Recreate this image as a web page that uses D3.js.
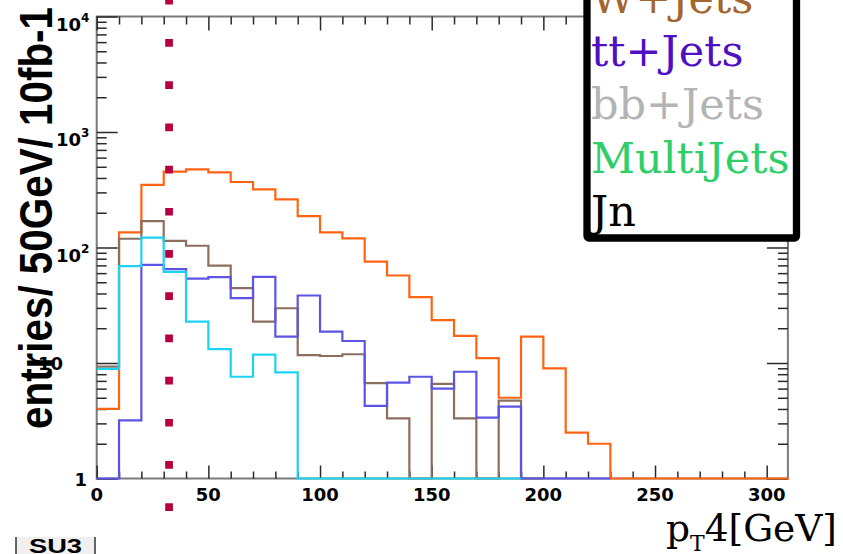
<!DOCTYPE html>
<html>
<head>
<meta charset="utf-8">
<script src="https://cdn.jsdelivr.net/npm/d3@7"></script>
<style>
  html, body { margin: 0; padding: 0; background: #ffffff; }
  svg { display: block; }
</style>
</head>
<body>
<svg id="chart" width="843" height="554"></svg>
<script>
// ---- data (10 GeV bins, starting at 0 GeV) ----
const binWidth = 10;
const xMajorTicks = [0, 50, 100, 150, 200, 250, 300];
const yMajorTicks = [1, 10, 100, 1000, 10000];
const yTickLabels = [
  { base: "1", exp: "" },
  { base: "10", exp: "" },
  { base: "10", exp: "2" },
  { base: "10", exp: "3" },
  { base: "10", exp: "4" }
];
// orange histogram
const seriesOrange = [4.0, 135, 349, 453, 474, 447, 369, 318, 261, 187, 135, 120, 75.6, 57.2, 37.2, 23.5, 17.2, 11.0, 5.0, 16.9, 9.0, 2.5, 2.0, 0, 0, 0, 0, 0, 0, 0, 0];
// brown histogram
const seriesBrown = [9.3, 119, 169, 114, 103.5, 69.8, 44.5, 22.8, 29.8, 11.7, 11.5, 11.9, 6.7, 3.32, 0, 6.6, 3.32, 0, 4.72, 0];
// blue histogram
const seriesBlue = [0, 3.19, 70.8, 65, 53.8, 55.4, 36.4, 55.7, 16.9, 38.4, 18.7, 15.5, 4.25, 6.76, 7.6, 6.0, 8.4, 3.36, 4.19, 0, 0, 0, 0];
// cyan histogram
const seriesCyan = [8.9, 69, 122, 61.5, 22.8, 13.2, 7.6, 11.8, 8.3, 0, 0, 0, 0, 0, 0, 0, 0, 0, 0];
const seriesNames = ["orange", "brown", "blue", "cyan"];
const cutValue = 32.4;
const legendLabels = ["W+Jets", "tt+Jets", "bb+Jets", "MultiJets", "Jn"];
const xTitleParts = ["p", "T", "4[GeV]"];
const yTitle = "entries/ 50GeV/ 10fb-1";
const tagText = "SU3";

// ---- styles ----
const seriesColors = { orange: "#ff6414", brown: "#8c6e5f", blue: "#5c55e3", cyan: "#1cd2f2" };
const legendColors = ["#a2662e", "#4e10c2", "#b4b4b4", "#2fce68", "#000000"];

const svg = d3.select("#chart");
const pLeft = 96.7, pRight = 787.9, pTop = 16.5, pBottom = 478.5;

const x = d3.scaleLinear().domain([0, 309.5]).range([pLeft, pRight]);
const y = d3.scaleLog().domain([1, 10000]).range([pBottom, pTop]).clamp(true);

const minorX = d3.range(0, 310, 10).filter(v => v % 50 !== 0);
const minorY = [];
for (let d = 1; d < 10000; d *= 10) for (let k = 2; k <= 9; k++) minorY.push(d * k);

const tickColor = "#2a2a2a";
const frameColor = "#7a7a7a";

function styleAxis(g) {
  g.select(".domain").remove();
  g.selectAll(".tick line").attr("stroke", tickColor).attr("stroke-width", 1.5);
  g.selectAll(".tick text").remove();
}

// frame
svg.append("rect")
  .attr("x", pLeft).attr("y", pTop)
  .attr("width", pRight - pLeft).attr("height", pBottom - pTop)
  .attr("fill", "none").attr("stroke", frameColor).attr("stroke-width", 2);

// bottom axis
svg.append("g").attr("transform", `translate(0,${pBottom})`)
  .call(d3.axisBottom(x).tickValues(xMajorTicks).tickSizeInner(-13).tickSizeOuter(0)).call(styleAxis);
svg.append("g").attr("transform", `translate(0,${pBottom})`)
  .call(d3.axisBottom(x).tickValues(minorX).tickSizeInner(-7).tickSizeOuter(0)).call(styleAxis);
// top axis
svg.append("g").attr("transform", `translate(0,${pTop})`)
  .call(d3.axisTop(x).tickValues(xMajorTicks).tickSizeInner(-14).tickSizeOuter(0)).call(styleAxis);
svg.append("g").attr("transform", `translate(0,${pTop})`)
  .call(d3.axisTop(x).tickValues(minorX).tickSizeInner(-8).tickSizeOuter(0)).call(styleAxis);
// left axis
svg.append("g").attr("transform", `translate(${pLeft},0)`)
  .call(d3.axisLeft(y).tickValues(yMajorTicks).tickSizeInner(-21).tickSizeOuter(0)).call(styleAxis);
svg.append("g").attr("transform", `translate(${pLeft},0)`)
  .call(d3.axisLeft(y).tickValues(minorY).tickSizeInner(-10).tickSizeOuter(0)).call(styleAxis);
// right axis
svg.append("g").attr("transform", `translate(${pRight},0)`)
  .call(d3.axisRight(y).tickValues(yMajorTicks).tickSizeInner(-21).tickSizeOuter(0)).call(styleAxis);
svg.append("g").attr("transform", `translate(${pRight},0)`)
  .call(d3.axisRight(y).tickValues(minorY).tickSizeInner(-10).tickSizeOuter(0)).call(styleAxis);

// y title
svg.append("text")
  .attr("transform", "translate(52,429) rotate(-90)")
  .attr("x", 0).attr("y", 0)
  .attr("font-family", "Liberation Sans, Arial, sans-serif").attr("font-weight", "bold").attr("font-size", 47)
  .attr("textLength", 422).attr("lengthAdjust", "spacingAndGlyphs")
  .attr("fill", "#000")
  .text(yTitle);

// x tick labels
svg.append("g").selectAll("text").data(xMajorTicks).join("text")
  .attr("x", d => x(d)).attr("y", pBottom + 22)
  .attr("text-anchor", "middle")
  .attr("font-family", "DejaVu Sans, sans-serif").attr("font-weight", "bold").attr("font-size", 18)
  .attr("fill", "#000")
  .text(d => d);

// y tick labels
yMajorTicks.forEach((v, i) => {
  const lab = yTickLabels[i];
  const t = svg.append("text")
    .attr("font-family", "DejaVu Sans, sans-serif").attr("font-weight", "bold").attr("font-size", 18)
    .attr("fill", "#000");
  if (lab.exp) {
    t.attr("x", 56).attr("y", y(v) + 14);
    t.append("tspan").text(lab.base);
    t.append("tspan").attr("font-size", 12).attr("dy", -9).text(lab.exp);
  } else {
    t.attr("text-anchor", "end").attr("y", y(v) + 7)
      .attr("x", lab.base === "1" ? 87 : 63)
      .text(lab.base);
  }
});

// histograms
function stepPath(values) {
  const pts = [];
  values.forEach((v, i) => {
    const yy = y(v > 0 ? v : 1);
    pts.push([x(i * binWidth), yy]);
    pts.push([x((i + 1) * binWidth), yy]);
  });
  return d3.line()(pts);
}
const seriesData = { orange: seriesOrange, brown: seriesBrown, blue: seriesBlue, cyan: seriesCyan };
seriesNames.forEach(name => {
  svg.append("path")
    .attr("d", stepPath(seriesData[name]))
    .attr("fill", "none")
    .attr("stroke", seriesColors[name])
    .attr("stroke-width", 2.2)
    .attr("stroke-linejoin", "miter");
});

// cut line (dotted squares)
svg.append("line")
  .attr("x1", x(cutValue)).attr("x2", x(cutValue))
  .attr("y1", -3.1).attr("y2", 512)
  .attr("stroke", "#b8003f").attr("stroke-width", 7.7)
  .attr("stroke-dasharray", "7.7 34.5");

// legend
svg.append("rect")
  .attr("x", 587).attr("y", -300).attr("width", 209.5).attr("height", 538)
  .attr("rx", 2)
  .attr("fill", "#fff").attr("stroke", "#000").attr("stroke-width", 7.3);
svg.append("g").selectAll("text").data(legendLabels).join("text")
  .attr("x", 591).attr("y", (d, i) => 12.5 + i * 53.4)
  .attr("font-family", "DejaVu Serif, serif").attr("font-size", 43)
  .attr("fill", (d, i) => legendColors[i])
  .text(d => d);

// x title
const xt = svg.append("text")
  .attr("x", 837).attr("y", 541).attr("text-anchor", "end")
  .attr("font-family", "DejaVu Serif, serif").attr("font-size", 37.5).attr("fill", "#000");
xt.append("tspan").text(xTitleParts[0]);
xt.append("tspan").attr("font-size", 22).attr("dy", 10).text(xTitleParts[1]);
xt.append("tspan").attr("dy", -10).text(xTitleParts[2]);

// SU3 tag
svg.append("rect").attr("x", 16).attr("y", 537).attr("width", 79).attr("height", 20)
  .attr("fill", "#f0f0f0");
svg.append("line").attr("x1", 16).attr("x2", 16).attr("y1", 537).attr("y2", 554).attr("stroke", "#333").attr("stroke-width", 1.5);
svg.append("line").attr("x1", 95).attr("x2", 95).attr("y1", 537).attr("y2", 554).attr("stroke", "#333").attr("stroke-width", 1.5);
svg.append("text")
  .attr("x", 29).attr("y", 553)
  .attr("font-family", "Liberation Sans, Arial, sans-serif").attr("font-weight", "bold").attr("font-size", 19.5)
  .attr("textLength", 53).attr("lengthAdjust", "spacingAndGlyphs")
  .attr("fill", "#000")
  .text(tagText);
</script>
</body>
</html>
